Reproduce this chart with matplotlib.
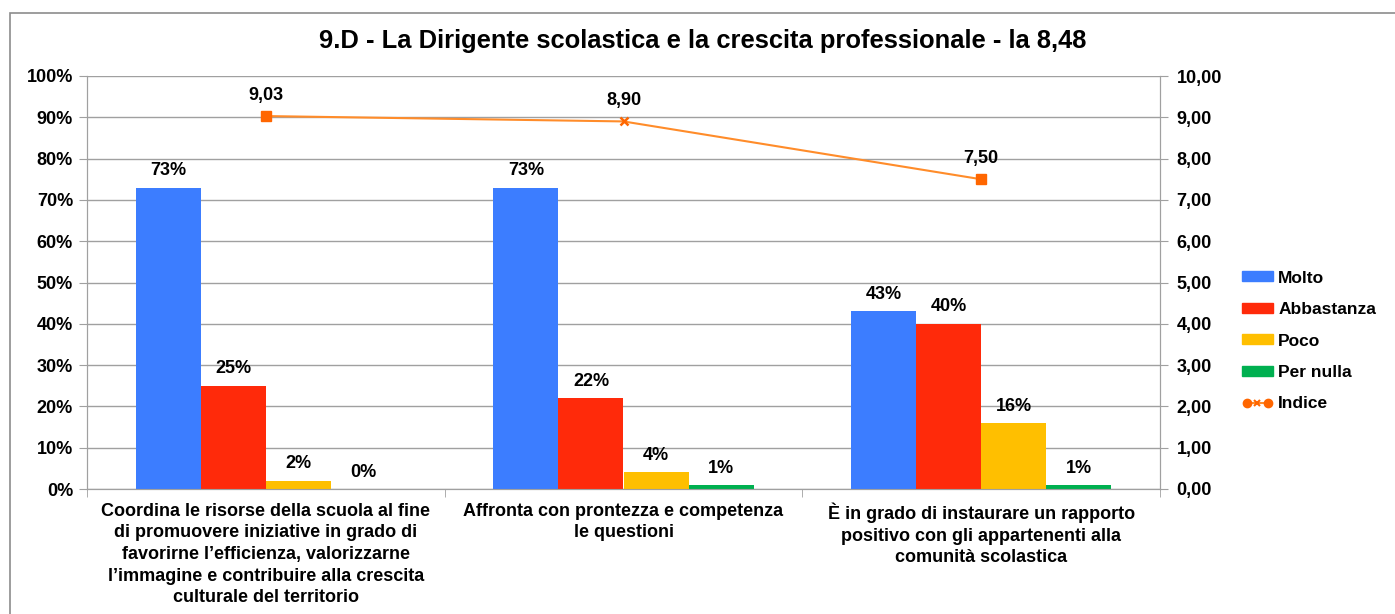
import numpy as np
import matplotlib
matplotlib.use("Agg")
import matplotlib.pyplot as plt
from matplotlib.lines import Line2D
from matplotlib.patches import Patch, Rectangle
from matplotlib.legend_handler import HandlerTuple, HandlerLine2D
from matplotlib.ticker import FuncFormatter, MultipleLocator

plt.rcParams['font.family'] = ['Liberation Sans', 'DejaVu Sans']
plt.rcParams['font.weight'] = 'bold'

# data
categories = [
    "Coordina le risorse della scuola al fine\ndi promuovere iniziative in grado di\n"
    "favorirne l\u2019efficienza, valorizzarne\nl\u2019immagine e contribuire alla crescita\n"
    "culturale del territorio",
    "Affronta con prontezza e competenza\nle questioni",
    "\u00c8 in grado di instaurare un rapporto\npositivo con gli appartenenti alla\ncomunit\u00e0 scolastica",
]
series_names = ["Molto", "Abbastanza", "Poco", "Per nulla"]
molto = [73, 73, 43]
abbastanza = [25, 22, 40]
poco = [2, 4, 16]
per_nulla = [0, 1, 1]
indice = [9.03, 8.90, 7.50]
title = "9.D - La Dirigente scolastica e la crescita professionale - la 8,48"

colors = ["#3C7DFF", "#FF2A0A", "#FFBF00", "#00B050"]
line_color = "#FF8C2A"
marker_color = "#FF6600"
grid_color = "#A0A0A0"
fs = 13

fig = plt.figure(figsize=(13.95, 6.14), dpi=100)
ax = fig.add_axes([87 / 1395, 1 - 489 / 614, (1160 - 87) / 1395, (489 - 76) / 614])
ax2 = ax.twinx()

# outer frame
fig.patches.append(Rectangle((10 / 1395, -0.1), 1.2, 1.1 - 13 / 614, fill=False,
                             ec="#8C8C8C", lw=1.2, transform=fig.transFigure))

x = np.arange(len(categories))
w = 0.182
all_series = [molto, abbastanza, poco, per_nulla]
for i, (vals, name, c) in enumerate(zip(all_series, series_names, colors)):
    pos = x + (i - 1.5) * w
    ax.bar(pos, vals, width=w, color=c, label=name, zorder=3)
    for px, v in zip(pos, vals):
        ax.annotate(f"{v}%", (px, v), xytext=(0, 6), textcoords="offset points",
                    ha="center", va="bottom", fontsize=fs, fontweight="bold")

ax.set_xlim(-0.5, 2.5)
ax.set_ylim(0, 100)
ax.yaxis.set_major_locator(MultipleLocator(10))
ax.yaxis.set_major_formatter(FuncFormatter(lambda v, p: f"{int(v)}%"))
ax.grid(axis="y", color=grid_color, lw=1, zorder=0)
ax.set_axisbelow(True)
ax.set_xticks(x)
ax.set_xticklabels(categories, fontsize=fs, fontweight="bold", linespacing=1.35)
ax.set_xticks([-0.5, 0.5, 1.5, 2.5], minor=True)
ax.tick_params(axis="x", which="major", length=0, pad=10)
ax.tick_params(axis="x", which="minor", length=6, color=grid_color)
ax.tick_params(axis="y", length=6, color=grid_color, labelsize=fs, pad=4)
for s in ["left", "bottom", "right", "top"]:
    ax.spines[s].set_color(grid_color)
ax.spines["top"].set_visible(False)

# indice line
ax2.plot(x, indice, color=line_color, lw=1.5, marker="s", markersize=7,
         markerfacecolor=marker_color, markeredgecolor=marker_color,
         markevery=[0, 2], zorder=5)
ax2.plot(x[1:2], indice[1:2], ls="none", marker="x", markersize=6,
         markeredgecolor=marker_color, mew=1.8, zorder=6)
for px, v in zip(x, indice):
    ax2.annotate(f"{v:.2f}".replace(".", ","), (px, v), xytext=(0, 9),
                 textcoords="offset points", ha="center", va="bottom",
                 fontsize=fs, fontweight="bold")
ax2.set_ylim(0, 10)
ax2.yaxis.set_major_locator(MultipleLocator(1))
ax2.yaxis.set_major_formatter(FuncFormatter(lambda v, p: f"{v:.2f}".replace(".", ",")))
ax2.tick_params(axis="y", length=6, color=grid_color, labelsize=fs, pad=6)
for s in ["left", "bottom", "right", "top"]:
    ax2.spines[s].set_color(grid_color)
ax2.spines["top"].set_visible(False)

fig.text(703 / 1395, 1 - 41 / 614, title, ha="center", va="center",
         fontsize=18.4, fontweight="bold")

# legend
handles = [Patch(color=c) for c in colors]
h_line = Line2D([], [], color=line_color, lw=1.5, marker="o", markersize=6,
                markerfacecolor=marker_color, markeredgecolor=marker_color)
h_x = Line2D([], [], ls="none", marker="x", markersize=5, markeredgecolor=marker_color, mew=1.5)
handles.append((h_line, h_x))
labels = series_names + ["Indice"]
fig.legend(handles, labels, loc="center left", bbox_to_anchor=(1226 / 1395, 1 - 341 / 614),
           frameon=False, fontsize=12.5, handlelength=1.8, handleheight=0.5,
           handletextpad=0.3, labelspacing=0.95,
           handler_map={tuple: HandlerTuple(ndivide=1),
                        h_line: HandlerLine2D(numpoints=2),
                        h_x: HandlerLine2D(numpoints=1)})

fig.savefig("out.png", dpi=100)
